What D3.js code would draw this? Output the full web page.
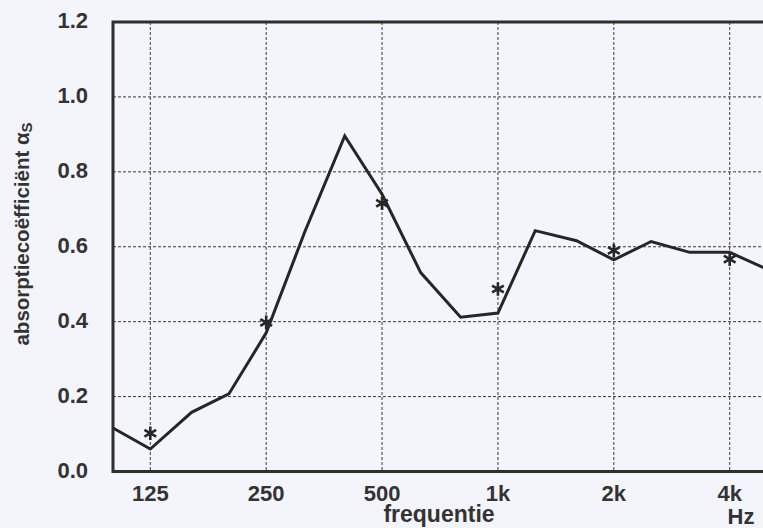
<!DOCTYPE html>
<html>
<head>
<meta charset="utf-8">
<script src="https://cdn.jsdelivr.net/npm/d3@7"></script>
<style>
  body { margin: 0; background: #f4f5fb; }
  svg { display: block; }
  text { font-family: "Liberation Sans", Arial, sans-serif; font-weight: bold; fill: #333; }
</style>
</head>
<body>
<svg id="chart"></svg>
<script>
// 1/3 octave band centre frequencies and measured curve
const bands = [100, 125, 160, 200, 250, 315, 400, 500, 630, 800, 1000, 1250, 1600, 2000, 2500, 3150, 4000, 5000];
const alpha = [0.116, 0.060, 0.158, 0.207, 0.37, 0.64, 0.896, 0.74, 0.531, 0.412, 0.423, 0.643, 0.616, 0.565, 0.614, 0.585, 0.585, 0.54];

// octave band values (asterisks)
const octaves = [125, 250, 500, 1000, 2000, 4000];
const octaveAlpha = [0.102, 0.398, 0.716, 0.487, 0.59, 0.567];

const xTicks = [125, 250, 500, 1000, 2000, 4000];
const xTickLabels = ["125", "250", "500", "1k", "2k", "4k"];
const yTicks = [0, 0.2, 0.4, 0.6, 0.8, 1.0, 1.2];

const W = 763, H = 528;
const mLeft = 113, mTop = 22, mBottom = 471.5, mRight = 767;

const svg = d3.select("#chart").attr("width", W).attr("height", H);

const x = d3.scaleLog().base(2).domain([100, 5000]).range([mLeft, mRight]);
const y = d3.scaleLinear().domain([0, 1.2]).range([mBottom, mTop]);

// grid
const grid = svg.append("g")
  .attr("stroke", "#3a3a3a")
  .attr("stroke-width", 1)
  .attr("stroke-dasharray", "3,2");

grid.selectAll("line.v")
  .data(xTicks)
  .join("line")
  .attr("class", "v")
  .attr("x1", d => x(d)).attr("x2", d => x(d))
  .attr("y1", mTop).attr("y2", mBottom);

grid.selectAll("line.h")
  .data(yTicks.filter(d => d > 0 && d < 1.2))
  .join("line")
  .attr("class", "h")
  .attr("x1", mLeft).attr("x2", mRight)
  .attr("y1", d => y(d)).attr("y2", d => y(d));

// frame
svg.append("rect")
  .attr("x", mLeft).attr("y", mTop)
  .attr("width", mRight - mLeft).attr("height", mBottom - mTop)
  .attr("fill", "none")
  .attr("stroke", "#2f2f2f")
  .attr("stroke-width", 3);

// curve
const line = d3.line()
  .x((d, i) => x(bands[i]))
  .y(d => y(d));

svg.append("path")
  .datum(alpha)
  .attr("d", line)
  .attr("fill", "none")
  .attr("stroke", "#262626")
  .attr("stroke-width", 3)
  .attr("stroke-linejoin", "miter");

// asterisks
const star = d3.symbol(d3.symbolAsterisk, 130);
svg.append("g")
  .selectAll("path")
  .data(octaveAlpha)
  .join("path")
  .attr("d", star)
  .attr("transform", (d, i) => `translate(${x(octaves[i])},${y(d)})`)
  .attr("fill", "none")
  .attr("stroke", "#262626")
  .attr("stroke-width", 2.6);

// y tick labels
svg.append("g")
  .selectAll("text")
  .data(yTicks)
  .join("text")
  .attr("x", 88)
  .attr("y", d => y(d) + 6)
  .attr("text-anchor", "end")
  .style("font-size", "22px")
  .text(d => d.toFixed(1));

// x tick labels
svg.append("g")
  .selectAll("text")
  .data(xTicks)
  .join("text")
  .attr("x", d => x(d))
  .attr("y", 501)
  .attr("text-anchor", "middle")
  .style("font-size", "22px")
  .text((d, i) => xTickLabels[i]);

svg.append("text")
  .attr("x", 439)
  .attr("y", 522)
  .attr("text-anchor", "middle")
  .style("font-size", "23px")
  .text("frequentie");

svg.append("text")
  .attr("x", 741)
  .attr("y", 524)
  .attr("text-anchor", "middle")
  .style("font-size", "22px")
  .text("Hz");

// y axis title
const yt = svg.append("text")
  .attr("transform", "translate(29,234) rotate(-90)")
  .attr("text-anchor", "middle")
  .style("font-size", "20.5px");
yt.append("tspan").text("absorptiecoëfficiënt α");
yt.append("tspan").attr("dy", 3).style("font-size", "15px").text("S");
</script>
</body>
</html>
